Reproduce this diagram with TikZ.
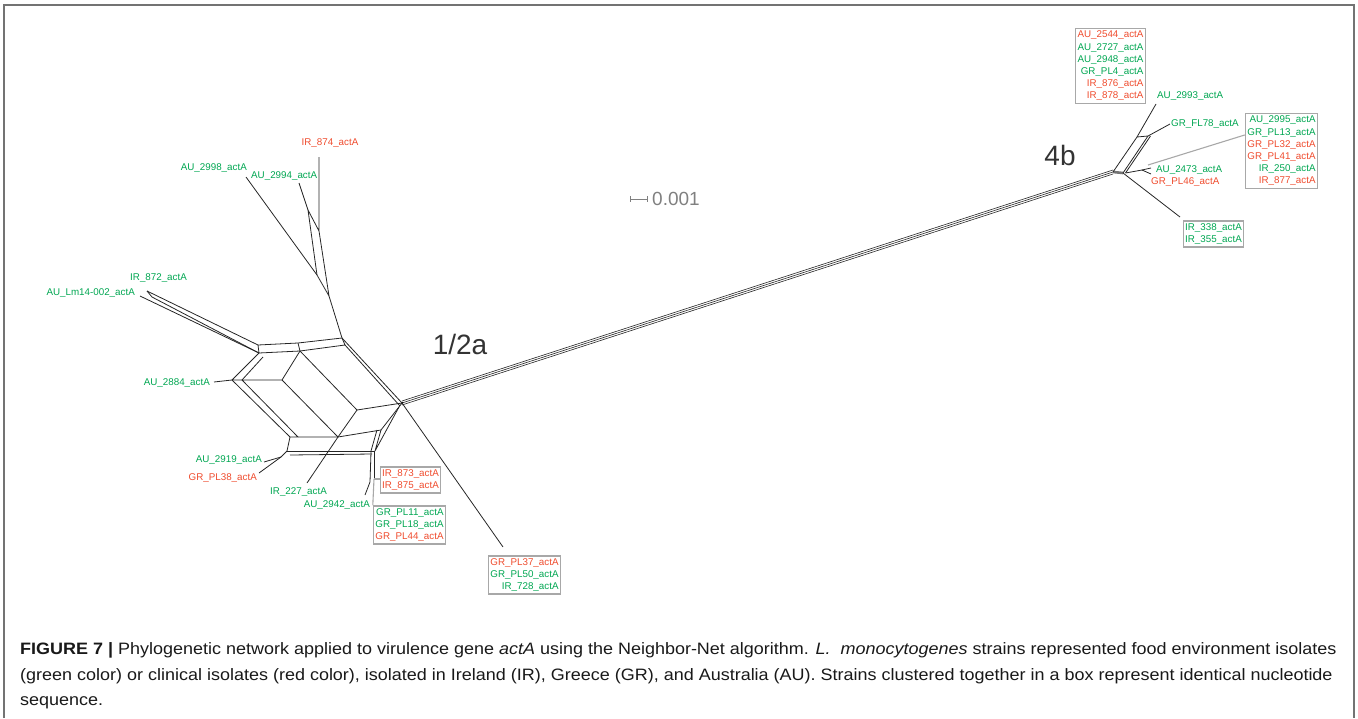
\documentclass[tikz,border=0pt]{standalone}
\usepackage{fontspec}
\setmainfont{Liberation Sans}
\newfontfamily\capfont[FakeStretch=1.09]{Liberation Sans}
\usepackage{xcolor}
\usetikzlibrary{positioning}
\definecolor{foodgreen}{HTML}{00A651}
\definecolor{clinred}{HTML}{EF4B2D}
\definecolor{boxgray}{HTML}{A8A8A8}
\newcommand{\envst}[1]{\textcolor{foodgreen}{#1}}
\newcommand{\clinst}[1]{\textcolor{clinred}{#1}}

\begin{document}
\begin{tikzpicture}[
  x=1pt, y=-1pt,
  split/.style={draw=black!85, line width=0.8pt, line join=round},
  link/.style={draw=boxgray, line width=1.1pt},
  leaf/.style={inner sep=0pt, font=\fontsize{9.8}{12.2}\selectfont},
  food/.style={leaf, text=foodgreen},
  clin/.style={leaf, text=clinred},
  cluster/.style={draw=boxgray, line width=1.3pt, align=right, inner xsep=2pt,
    inner ysep=2.5pt, font=\fontsize{9.8}{12.2}\selectfont},
  clade/.style={font=\fontsize{28}{28}\selectfont, text=black!80},
  capline/.style={anchor=base west, inner sep=0pt, text=black!90,
    font=\capfont\fontsize{16.5}{20}\selectfont}
]
  \useasboundingbox (0,0) rectangle (1358,718);
  \coordinate (frameBL) at (4,718);
  \coordinate (frameTR) at (1354,5);
  \coordinate (frameBR) at (1354,718);
  \draw[black!55, line width=1.2pt] (frameBL) |- (frameTR) -- (frameBR);

  % hubs and the long edge
  \coordinate (hubA) at (402,403);
  \coordinate (hubB) at (1113,172);
  \coordinate (hubB2) at (1123,173);
  \foreach \d in {-2,0,2}
    \draw[split, line width=0.6pt] ([yshift=\d pt]hubA) -- ([yshift=\d pt]hubB);
  \fill (hubA) circle (1.4);

  % 4b
  \coordinate (u1) at (1137,137);
  \coordinate (u2) at (1148,136);
  \coordinate (w1) at (1142,170);
  \coordinate (e2993) at (1156,104);
  \coordinate (eFL78) at (1170,124);
  \coordinate (e2473) at (1151,168);
  \coordinate (e2473b) at (1151,174);
  \coordinate (e338) at (1180,217);
  \coordinate (g4b) at (1148,165);
  \draw[split, line width=2.6pt, black!55] (hubB) -- (hubB2);
  \draw[split] (hubB) -- (u1) -- (e2993);
  \draw[split] (u1) -- (u2) -- (eFL78);
  \draw[split] (hubB2) -- (u2);
  \draw[split] ([xshift=2.5pt]hubB2) -- ([xshift=2.5pt]u2);
  \draw[split] ([xshift=2.5pt]hubB2) -- (w1) -- (e2473);
  \draw[split] (w1) -- (e2473b);
  \draw[split] (hubB2) -- (e338);

  % 1/2a, upper stem
  \coordinate (s874) at (319,157);
  \coordinate (s2994) at (299,183);
  \coordinate (s2998) at (246,177);
  \coordinate (sA) at (308,210);
  \coordinate (sB) at (319,231);
  \coordinate (sC) at (317,275);
  \coordinate (sD) at (329,296);
  \draw[split] (s874) -- (sB) -- (sD) -- (sC) -- (sA) -- (sB);
  \draw[split] (s2994) -- (sA);
  \draw[split] (s2998) -- (sC);

  % top band
  \coordinate (t1) at (258,345);
  \coordinate (t2) at (298,343);
  \coordinate (t3) at (342,338);
  \coordinate (b1) at (259,353);
  \coordinate (b1x) at (263,357);
  \coordinate (b2) at (300,351);
  \coordinate (b3) at (345,345);
  \draw[split] (sD) -- (t3);
  \draw[split] (t1) -- (t2) -- (t3) -- (b3) -- (b2) -- (b1) -- (t1);
  \draw[split] (t2) -- (b2);
  \draw[split] (t3) -- (hubA);
  \draw[split] (b3) -- ([shift={(-2,3)}]hubA);

  % left arm
  \coordinate (a872) at (147,291);
  \coordinate (a0) at (152,297);
  \coordinate (aLm) at (140,296);
  \draw[split] (a872) -- (t1);
  \draw[split] (a872) -- (a0) -- (b1);
  \draw[split] (aLm) -- (b1);

  % hexagon
  \coordinate (n1) at (232,380);
  \coordinate (n2) at (242,380);
  \coordinate (m1) at (282,380);
  \coordinate (m2) at (338,437);
  \coordinate (m3) at (357,410);
  \coordinate (m4) at (381,430);
  \coordinate (m5) at (375,451);
  \coordinate (s1) at (290,437);
  \coordinate (s2) at (298,437);
  \coordinate (e2884) at (214,382);
  \draw[split] (b1) -- (n1) -- (n2) -- (b1x);
  \draw[split] (e2884) -- (n1) -- (s1) -- (s2) -- (n2) -- (m1) -- (b2) -- (m3) -- (hubA);
  \draw[split] (m1) -- (m2) -- (m3);
  \draw[split] (s2) -- (m2) -- (m4) -- (hubA);
  \draw[split] (m4) -- (m5) -- ([shift={(-3,4)}]hubA);
  \draw[split] ([xshift=-4pt]m4) -- ([xshift=-4pt]m5);

  % lower band and leaves
  \coordinate (lb1) at (287,451);
  \coordinate (lb2) at (281,457);
  \coordinate (lb3) at (290,455);
  \coordinate (e2919) at (264,462);
  \coordinate (ePL38) at (259,473);
  \coordinate (e227) at (307,483);
  \coordinate (v1) at (371,452);
  \coordinate (v2) at (370,482);
  \coordinate (v3) at (374,452);
  \coordinate (v4) at (374,479);
  \coordinate (e2942) at (365,495);
  \coordinate (p37) at (503,547);
  \draw[split] (s1) -- (lb1) -- (lb2) -- (e2919);
  \draw[split] (lb2) -- (ePL38);
  \draw[split] (lb1) -- (m5);
  \draw[split] (lb3) -- ([shift={(-3,3)}]m5);
  \draw[split] (e227) -- (m2);
  \draw[split] (v1) -- (v2) -- (e2942);
  \draw[split] (v3) -- (v4);
  \draw[split] (hubA) -- (p37);

  % labels
  \node[clin, anchor=center] (l874) at (330,143) {IR\_874\_actA};
  \node[food, anchor=east] (l2998) at (247,168) {AU\_2998\_actA};
  \node[food, anchor=west] (l2994) at (251,176) {AU\_2994\_actA};
  \node[food, anchor=west] (l872) at (130,278) {IR\_872\_actA};
  \node[food, anchor=east] (lLm14) at (135,293) {AU\_Lm14-002\_actA};
  \node[food, anchor=east] (l2884) at (210,383) {AU\_2884\_actA};
  \node[food, anchor=east] (l2919) at (262,460) {AU\_2919\_actA};
  \node[clin, anchor=east] (lPL38) at (257,478) {GR\_PL38\_actA};
  \node[food, anchor=west] (l227) at (270,492) {IR\_227\_actA};
  \node[food, anchor=east] (l2942) at (370,505) {AU\_2942\_actA};
  \node[food, anchor=west] (l2993) at (1157,96) {AU\_2993\_actA};
  \node[food, anchor=west] (lFL78) at (1171,124) {GR\_FL78\_actA};
  \node[food, anchor=west] (l2473) at (1156,170) {AU\_2473\_actA};
  \node[clin, anchor=west] (lPL46) at (1151,182) {GR\_PL46\_actA};

  \node[cluster] (box2544) at (1110.5,66) {\clinst{AU\_2544\_actA}\\ \envst{AU\_2727\_actA}\\
    \envst{AU\_2948\_actA}\\ \envst{GR\_PL4\_actA}\\ \clinst{IR\_876\_actA}\\ \clinst{IR\_878\_actA}};
  \node[cluster] (box2995) at (1281.5,151) {\envst{AU\_2995\_actA}\\ \envst{GR\_PL13\_actA}\\
    \clinst{GR\_PL32\_actA}\\ \clinst{GR\_PL41\_actA}\\ \envst{IR\_250\_actA}\\ \clinst{IR\_877\_actA}};
  \node[cluster] (box338) at (1213.5,234) {\envst{IR\_338\_actA}\\ \envst{IR\_355\_actA}};
  \node[cluster] (box873) at (410.5,480) {\clinst{IR\_873\_actA}\\ \clinst{IR\_875\_actA}};
  \node[cluster] (box11) at (409.5,525) {\envst{GR\_PL11\_actA}\\ \envst{GR\_PL18\_actA}\\
    \clinst{GR\_PL44\_actA}};
  \node[cluster] (box37) at (524.5,575) {\clinst{GR\_PL37\_actA}\\ \envst{GR\_PL50\_actA}\\
    \envst{IR\_728\_actA}};
  \draw[link] (g4b) -- ([yshift=-22pt]box2995.north west);
  \draw[link] (v4) -- (box873.west |- v4);
  \draw[link] (v4) -- (box11.north west);

  \node[clade] (c12a) at (460,344) {1/2a};
  \node[clade] (c4b) at (1060,155) {4b};

  % scale bar
  \coordinate (sb1) at (630,199);
  \coordinate (sb2) at (647,199);
  \draw[black!50, line width=0.8pt] (sb1) -- (sb2);
  \draw[black!50, line width=0.8pt] ([yshift=3pt]sb1) -- ([yshift=-3pt]sb1);
  \draw[black!50, line width=0.8pt] ([yshift=3pt]sb2) -- ([yshift=-3pt]sb2);
  \node[anchor=west, inner sep=0pt, text=black!50, font=\fontsize{19}{19}\selectfont]
    (sblabel) at (652,199) {0.001};

  % caption
  \node[capline] (cap1) at (20,654) {\textbf{FIGURE 7 |} Phylogenetic network applied to virulence gene
    \textit{actA} using the Neighbor-Net algorithm. \textit{L.\ \ monocytogenes} strains represented food
    environment isolates};
  \node[capline] (cap2) at (20,680) {(green color) or clinical isolates (red color), isolated in Ireland (IR),
    Greece (GR), and Australia (AU). Strains clustered together in a box represent identical nucleotide};
  \node[capline] (cap3) at (20,705) {sequence.};
\end{tikzpicture}
\end{document}
